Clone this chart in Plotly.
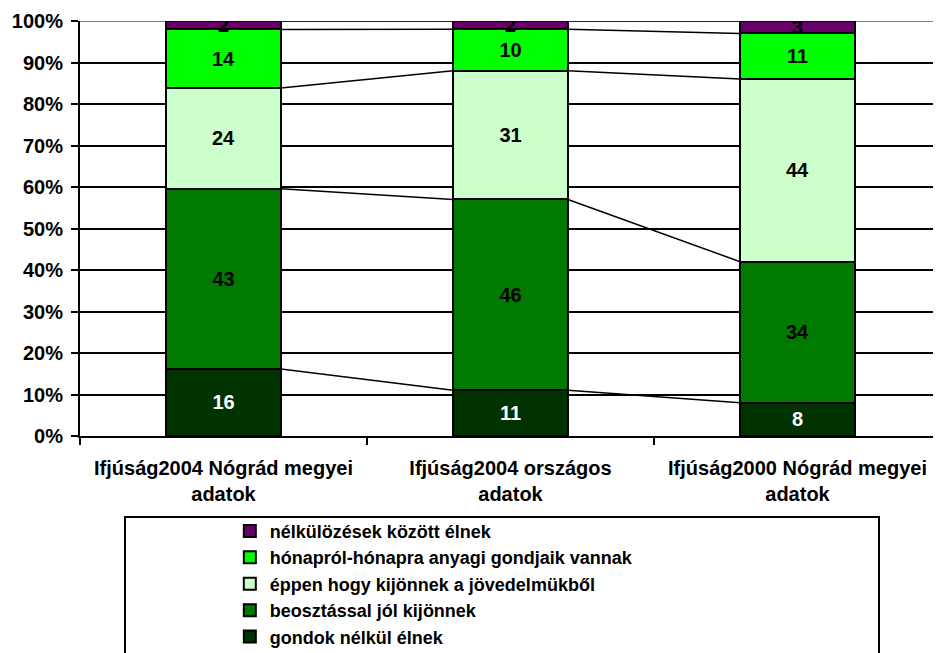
import plotly.graph_objects as go

# ---- data ----
categories = [
    "Ifjúság2004 Nógrád megyei<br>adatok",
    "Ifjúság2004 országos<br>adatok",
    "Ifjúság2000 Nógrád megyei<br>adatok",
]
series_names = [
    "gondok nélkül élnek",
    "beosztással jól kijönnek",
    "éppen hogy kijönnek a jövedelmükből",
    "hónapról-hónapra anyagi gondjaik vannak",
    "nélkülözések között élnek",
]
gondok_nelkul = [16, 11, 8]
beosztassal = [43, 46, 34]
eppen_hogy = [24, 31, 44]
honaprol_honapra = [14, 10, 11]
nelkulozesek = [2, 2, 3]

y_tick_values = [0, 10, 20, 30, 40, 50, 60, 70, 80, 90, 100]
y_tick_labels = ["0%", "10%", "20%", "30%", "40%", "50%", "60%", "70%", "80%", "90%", "100%"]

# ---- styles ----
series_values = [gondok_nelkul, beosztassal, eppen_hogy, honaprol_honapra, nelkulozesek]
colors = ["#003300", "#007A00", "#CCFFCC", "#00FF00", "#660066"]
label_colors = ["white", "black", "black", "black", "black"]
FONT = "'Liberation Sans', Arial, sans-serif"
BAR_WIDTH = 0.4
PAGE_OFFSET = 8  # default body margin of the html page

x_pos = list(range(len(categories)))

fig = go.Figure()

for name, vals, col, lcol in zip(series_names, series_values, colors, label_colors):
    fig.add_trace(go.Bar(
        x=x_pos, y=vals, name=name, width=BAR_WIDTH,
        marker=dict(color=col, line=dict(color="black", width=2)),
        text=[str(v) for v in vals], textposition="inside",
        insidetextanchor="middle", textangle=0,
        textfont=dict(family=FONT, size=20, color=lcol, weight="bold"),
        hoverinfo="skip",
    ))

# series lines connecting the top of each segment between neighbouring bars
totals = [sum(s[i] for s in series_values) for i in x_pos]
cum = [0.0] * len(x_pos)
half = BAR_WIDTH / 2
for s in series_values:
    cum = [c + v for c, v in zip(cum, s)]
    pct = [c / t * 100 for c, t in zip(cum, totals)]
    lx, ly = [], []
    for i in range(len(x_pos) - 1):
        lx += [x_pos[i] + half, x_pos[i + 1] - half, None]
        ly += [pct[i], pct[i + 1], None]
    fig.add_trace(go.Scatter(
        x=lx, y=ly, mode="lines", line=dict(color="black", width=1.5),
        showlegend=False, hoverinfo="skip",
    ))

W, H = 941 - PAGE_OFFSET, 653 - PAGE_OFFSET
fig.update_layout(
    barmode="stack", barnorm="percent",
    width=W, height=H,
    margin=dict(l=80 - PAGE_OFFSET, r=0, t=21 - PAGE_OFFSET,
                b=H - (436 - PAGE_OFFSET), autoexpand=False),
    paper_bgcolor="white", plot_bgcolor="white",
    font=dict(family=FONT, size=20, color="black", weight="bold"),
    uniformtext=dict(mode="show", minsize=20),
    showlegend=True,
    legend=dict(
        x=0.174, xanchor="left", y=-0.185, yanchor="top",
        traceorder="reversed", bgcolor="rgba(0,0,0,0)",
        font=dict(family=FONT, size=18, color="black", weight="bold"),
    ),
    shapes=[
        dict(type="line", xref="paper", yref="y", x0=0, x1=1, y0=100, y1=100,
             line=dict(color="#808080", width=2), layer="between"),
        dict(type="rect", xref="paper", yref="paper",
             x0=(125 - 80) / 861, x1=(879 - 80) / 861,
             y0=(436 - 517) / 415, y1=(436 - 670) / 415,
             line=dict(color="black", width=2), fillcolor="rgba(0,0,0,0)"),
    ],
)

fig.update_xaxes(
    range=[-0.5, len(categories) - 0.5], automargin=False,
    tickmode="array", tickvals=x_pos, ticktext=categories,
    ticks="", showgrid=False, zeroline=False,
    showline=True, linecolor="black", linewidth=2,
    ticklabelstandoff=13,
    tickfont=dict(family=FONT, size=20, color="black", weight="bold"),
    minor=dict(tickmode="array", tickvals=[i - 0.5 for i in range(len(categories) + 1)],
               ticks="outside", ticklen=7, tickwidth=2, tickcolor="black", showgrid=False),
)
fig.update_yaxes(
    range=[0, 100], automargin=False,
    tickmode="array", tickvals=y_tick_values, ticktext=y_tick_labels,
    ticks="outside", ticklen=7, tickwidth=2, tickcolor="black",
    showgrid=True, gridcolor="black", gridwidth=2, zeroline=False,
    showline=True, linecolor="black", linewidth=2,
    ticklabelstandoff=4,
    tickfont=dict(family=FONT, size=20, color="black", weight="bold"),
)

fig.write_html("out.html")
